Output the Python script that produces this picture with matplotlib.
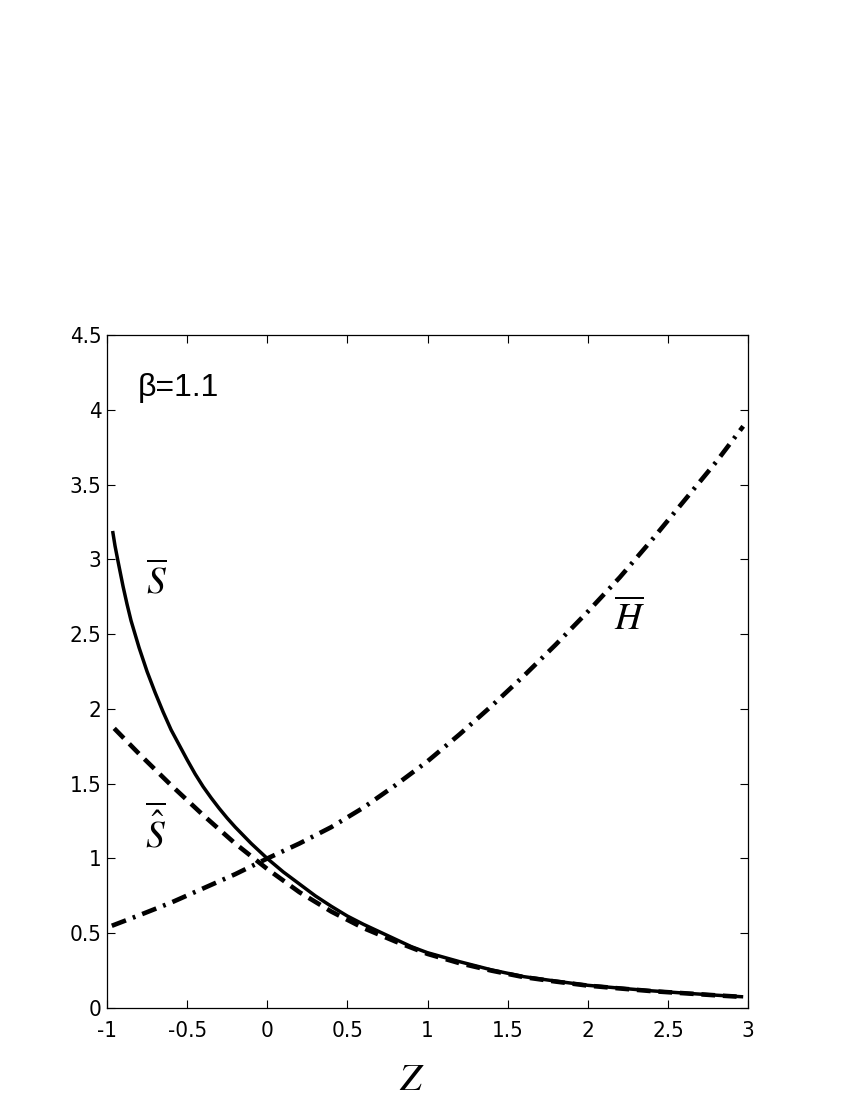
import matplotlib
matplotlib.use("Agg")
import matplotlib.pyplot as plt

plt.rcParams['font.family'] = ['DejaVu Sans', 'Liberation Sans']
plt.rcParams['font.stretch'] = 'condensed'
plt.rcParams['mathtext.fontset'] = 'stix'

# S-bar (solid)
z_s = [-0.965, -0.95, -0.93, -0.9, -0.875, -0.85, -0.8, -0.75, -0.7, -0.65, -0.6,
       -0.55, -0.5, -0.45, -0.4, -0.35, -0.3, -0.25, -0.2, -0.15, -0.1, -0.05,
       0.0, 0.1, 0.2, 0.3, 0.4, 0.5, 0.6, 0.7, 0.8, 0.9, 1.0, 1.2, 1.4, 1.6, 1.8,
       2.0, 2.2, 2.4, 2.6, 2.8, 2.97]
s_bar = [3.19, 3.09, 2.98, 2.82, 2.70, 2.59, 2.41, 2.25, 2.11, 1.98, 1.86,
         1.76, 1.66, 1.565, 1.48, 1.405, 1.335, 1.27, 1.21, 1.155, 1.10, 1.05,
         1.00, 0.91, 0.83, 0.75, 0.68, 0.615, 0.56, 0.51, 0.46, 0.41, 0.37, 0.31,
         0.255, 0.21, 0.18, 0.152, 0.133, 0.115, 0.10, 0.086, 0.075]

# S-hat-bar (dashed)
z_h = [-0.955, -0.8, -0.6, -0.4, -0.2, 0.0, 0.2, 0.4, 0.6, 0.8, 1.0, 1.2, 1.4,
       1.6, 1.8, 2.0, 2.2, 2.4, 2.6, 2.8, 2.97]
s_hat = [1.87, 1.70, 1.49, 1.29, 1.10, 0.93, 0.775, 0.645, 0.535, 0.445, 0.362,
         0.30, 0.25, 0.207, 0.177, 0.150, 0.131, 0.113, 0.099, 0.085, 0.074]

# H-bar (dash-dot)
z_H = [-0.97, -0.8, -0.6, -0.4, -0.2, 0.0, 0.2, 0.4, 0.6, 0.8, 1.0, 1.2, 1.4,
       1.6, 1.8, 2.0, 2.2, 2.4, 2.6, 2.8, 2.97]
h_bar = [0.55, 0.62, 0.705, 0.80, 0.895, 1.00, 1.10, 1.21, 1.34, 1.49, 1.65,
         1.83, 2.02, 2.22, 2.43, 2.65, 2.88, 3.13, 3.39, 3.65, 3.89]

xticks = [-1, -0.5, 0, 0.5, 1, 1.5, 2, 2.5, 3]
xlabels = ['-1', '-0.5', '0', '0.5', '1', '1.5', '2', '2.5', '3']
yticks = [0, 0.5, 1, 1.5, 2, 2.5, 3, 3.5, 4, 4.5]
ylabels = ['0', '0.5', '1', '1.5', '2', '2.5', '3', '3.5', '4', '4.5']

fig = plt.figure(figsize=(8.5, 11), dpi=100)
ax = fig.add_axes([0.1259, 0.0836, 0.7541, 0.6118])

ax.plot(z_s, s_bar, color='k', lw=2.5, solid_capstyle='butt', solid_joinstyle='round')
ax.plot(z_h, s_hat, color='k', lw=3.3, dashes=(3.0, 1.7))
ax.plot(z_H, h_bar, color='k', lw=3.3, dashes=(3.3, 1.6, 0.6, 1.6))

ax.set_xlim(-1, 3)
ax.set_ylim(0, 4.5)
ax.set_xticks(xticks)
ax.set_xticklabels(xlabels)
ax.set_yticks(yticks)
ax.set_yticklabels(ylabels)
ax.tick_params(direction='in', length=6, width=0.8, labelsize=16,
               top=True, right=True)
ax.tick_params(axis='x', pad=9)
ax.tick_params(axis='y', pad=4)
for sp in ax.spines.values():
    sp.set_linewidth(0.9)

ax.text(-0.81, 4.09, 'β=1.1', fontsize=23, family=['Liberation Sans', 'DejaVu Sans'],
        ha='left', va='baseline')
ax.text(-0.69, 2.85, r'$\overline{S}$', fontsize=27, ha='center', va='center')
ax.text(-0.70, 1.19, r'$\overline{\hat{S}}$', fontsize=27, ha='center', va='center')
ax.text(2.26, 2.60, r'$\overline{H}$', fontsize=27, ha='center', va='center')
ax.set_xlabel(r'$Z$', fontsize=28)
ax.xaxis.set_label_coords(0.476, -0.077)

fig.savefig('out.png', dpi=100)
